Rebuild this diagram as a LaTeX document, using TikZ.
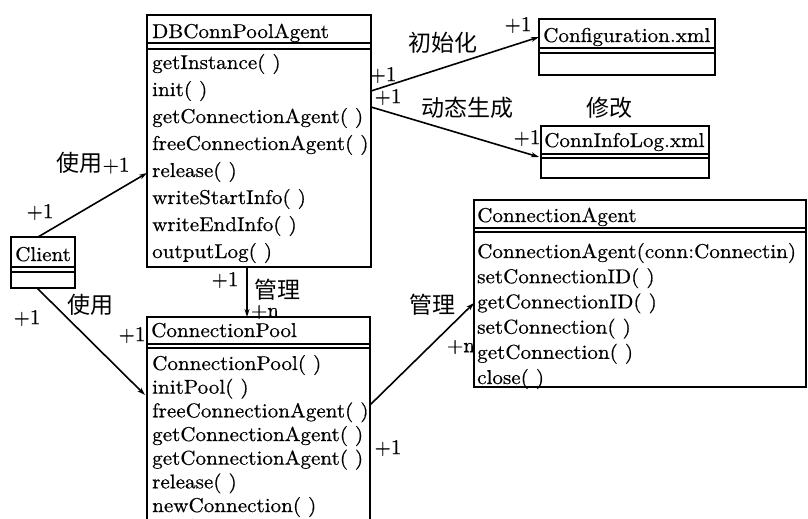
\documentclass[tikz,border=0pt]{standalone}
\usepackage{fontspec}
\newfontfamily\cjk{Noto Sans CJK SC}
\newfontfamily\uml{lmroman10-regular.otf}[FakeStretch=1.055,FakeBold=0.6]
\newfontfamily\umlplain{lmroman10-regular.otf}[FakeBold=0.6]
\usetikzlibrary{arrows.meta,calc}
\begin{document}
\begin{tikzpicture}[x=1pt,y=-1pt,
  box/.style={draw,line width=1.8pt,anchor=north west,inner sep=0pt,outer sep=0pt},
  mt/.style={anchor=base west,inner sep=0pt,font=\uml\fontsize{20}{24}\selectfont},
  lbl/.style={inner sep=0pt,font=\umlplain\fontsize{21}{23}\selectfont},
  cn/.style={inner sep=0pt,font=\cjk\fontsize{23}{25}\selectfont},
  conn/.style={line width=1.6pt,-{Stealth[length=8pt,width=5pt]}},
  sep/.style={line width=1.3pt}]
\useasboundingbox[fill=white] (0,0) rectangle (808,519);

% boxes
\node[box,minimum width=224,minimum height=252] (dbc) at (147,15) {};
\node[box,minimum width=64,minimum height=51] (client) at (11,237) {};
\node[box,minimum width=223,minimum height=212] (pool) at (147,317) {};
\node[box,minimum width=176,minimum height=56] (config) at (539,19) {};
\node[box,minimum width=168,minimum height=52] (log) at (541,126) {};
\node[box,minimum width=332,minimum height=187] (agent) at (474,200) {};

% compartment separators (double lines)
\foreach \b/\p/\q in {dbc/28/34, client/30/35, pool/27/31, config/29/34, log/28/32, agent/28/32} {
  \draw[sep] ($(\b.north west)+(0,\p)$) -- ($(\b.north east)+(0,\p)$);
  \draw[sep] ($(\b.north west)+(0,\q)$) -- ($(\b.north east)+(0,\q)$);
}

% texts
\node[mt] (dbct) at (152,38) {DBConnPoolAgent};
\foreach \t [count=\i] in {getInstance( ),init( ),getConnectionAgent( ),freeConnectionAgent( ),release( ),writeStartInfo( ),writeEndInfo( ),outputLog( )}
  \node[mt] (dbm\i) at (152,{69+27*(\i-1)}) {\t};
\node[mt] (clientt) at (15,261) {Client};
\node[mt] (poolt) at (151,337) {ConnectionPool};
\foreach \t [count=\i] in {ConnectionPool( ),initPool( ),freeConnectionAgent( ),getConnectionAgent( ),getConnectionAgent( ),release( ),newConnection( )}
  \node[mt] (poolm\i) at (152,{370+23.67*(\i-1)}) {\t};
\node[mt] (configt) at (543,42) {Configuration.xml};
\node[mt] (logt) at (544,147) {ConnInfoLog.xml};
\node[mt] (agentt) at (477,222) {ConnectionAgent};
\foreach \t [count=\i] in {ConnectionAgent(conn:Connectin),setConnectionID( ),getConnectionID( ),setConnection( ),getConnection( ),close( )}
  \node[mt] (agentm\i) at (477,{258+25.2*(\i-1)}) {\t};

% connectors
\draw[conn] ($(client.north west)+(27,0)$) -- ($(dbc.north west)+(0,158)$);
\draw[conn] ($(client.south west)+(26,0)$) -- ($(pool.north west)+(-2,78)$);
\draw[conn] ($(dbc.south west)+(100,0)$) -- ($(pool.north west)+(100,0)$);
\draw[conn] ($(dbc.north east)+(0,76)$) -- ($(config.north west)+(0,18)$);
\draw[conn] ($(dbc.north east)+(0,92)$) -- ($(log.north west)+(-2,31)$);
\draw[conn] ($(pool.north east)+(0,88)$) -- ($(agent.north west)+(0,103)$);

% labels
\node[lbl] (l1) at (40,212) {+1};
\node[inner sep=0pt] (l2) at (93,163) {{\cjk\fontsize{23}{25}\selectfont 使用}{\umlplain\fontsize{21}{23}\selectfont +1}};
\node[cn] (l3) at (90,305) {使用};
\node[lbl] (l4) at (27,318) {+1};
\node[lbl] (l5) at (132,335) {+1};
\node[lbl] (l6) at (225,280) {+1};
\node[cn] (l7) at (277,290) {管理};
\node[lbl] (l8) at (265,312) {+n};
\node[lbl] (l9) at (388,448) {+1};
\node[cn] (l10) at (432,305) {管理};
\node[lbl] (l11) at (461,347) {+n};
\node[cn] (l12) at (443,43) {初始化};
\node[lbl] (l13) at (518,25) {+1};
\node[lbl] (l14) at (383,75) {+1};
\node[lbl] (l15) at (388,97) {+1};
\node[cn] (l16) at (467,108) {动态生成};
\node[cn] (l17) at (609,108) {修改};
\node[lbl] (l18) at (527,138) {+1};
\end{tikzpicture}
\end{document}
